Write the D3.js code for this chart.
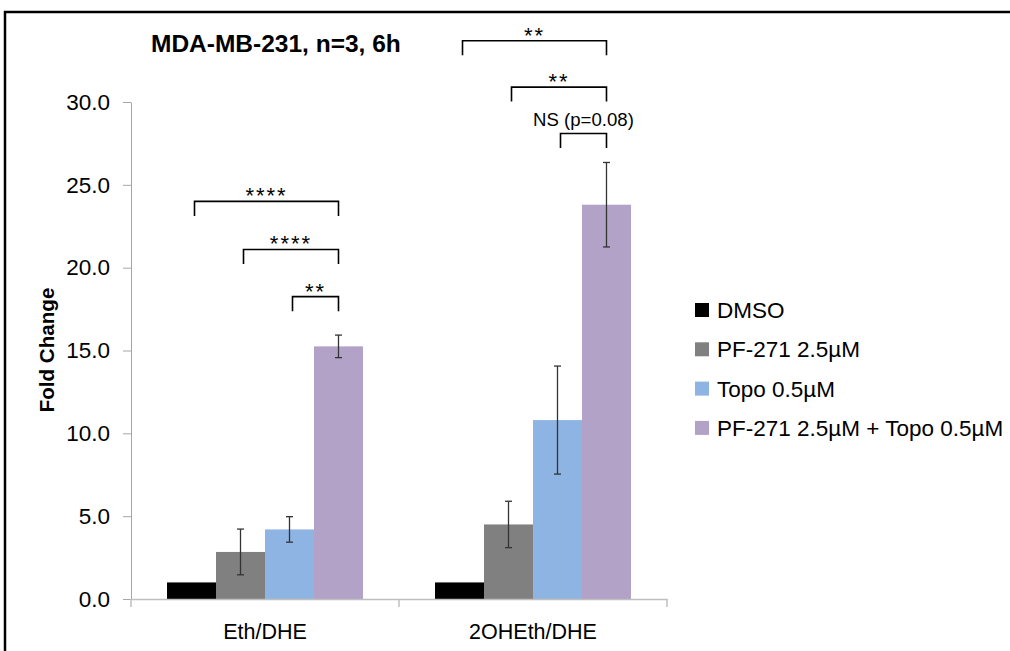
<!DOCTYPE html>
<html>
<head>
<meta charset="utf-8">
<script src="https://cdn.jsdelivr.net/npm/d3@7"></script>
<style>
  body { margin: 0; background: #fff; overflow: hidden; }
  svg { display: block; }
  svg text { font-family: "Liberation Sans", Arial, sans-serif; fill: #000; }
</style>
</head>
<body>
<div id="chart"></div>
<script>
// data
var categories = ["Eth/DHE", "2OHEth/DHE"];
var seriesNames = ["DMSO", "PF-271 2.5\u00b5M", "Topo 0.5\u00b5M", "PF-271 2.5\u00b5M + Topo 0.5\u00b5M"];
var seriesColors = ["#000000", "#808080", "#8eb4e3", "#b3a2c7"];

var dmso = [1.0, 1.0];
var pf271 = [2.84, 4.5];
var topo = [4.2, 10.8];
var combo = [15.25, 23.8];

var dmsoErr = [0, 0];
var pf271Err = [1.38, 1.4];
var topoErr = [0.77, 3.26];
var comboErr = [0.68, 2.55];

var yTicks = [0, 5, 10, 15, 20, 25, 30];

// significance brackets: category, from series, to series, height (fold change), label
var bracketCat = [0, 0, 0, 1, 1, 1];
var bracketFrom = [0, 1, 2, 0, 1, 2];
var bracketTo = [3, 3, 3, 3, 3, 3];
var bracketLevel = [24.0, 21.1, 18.25, 33.7, 30.9, 28.1];
var bracketLabel = ["****", "****", "**", "**", "**", "NS (p=0.08)"];

var W = 1010, H = 651;
var margin = {top: 102, left: 131, right: 343, bottom: 52};

var values = [dmso, pf271, topo, combo];
var errs = [dmsoErr, pf271Err, topoErr, comboErr];
var bars = [];
categories.forEach(function(c, ci) {
  seriesNames.forEach(function(s, si) {
    bars.push({cat: c, ser: s, si: si, v: values[si][ci], e: errs[si][ci]});
  });
});

var svg = d3.select("#chart").append("svg")
    .attr("width", W)
    .attr("height", H);

// outer frame (right and bottom edges fall outside the picture)
svg.append("path")
    .attr("d", "M5," + (H + 5) + "V12H" + (W + 5))
    .attr("fill", "none")
    .attr("stroke", "#000")
    .attr("stroke-width", 2.5);

var x0 = d3.scaleBand()
    .domain(categories)
    .range([margin.left, W - margin.right]);
var x1 = d3.scaleBand()
    .domain(seriesNames)
    .range([0, x0.bandwidth()])
    .paddingOuter(0.735);
var y = d3.scaleLinear()
    .domain([0, 30])
    .range([H - margin.bottom, margin.top]);

// bars
svg.selectAll(".bar")
    .data(bars)
  .enter().append("rect")
    .attr("class", "bar")
    .attr("x", function(d) { return x0(d.cat) + x1(d.ser); })
    .attr("width", x1.bandwidth())
    .attr("y", function(d) { return y(d.v); })
    .attr("height", function(d) { return y(0) - y(d.v); })
    .attr("fill", function(d) { return seriesColors[d.si]; });

// error bars
var eb = svg.selectAll(".err")
    .data(bars.filter(function(d) { return d.e > 0; }))
  .enter().append("g")
    .attr("class", "err")
    .attr("stroke", "#333")
    .attr("stroke-width", 1.3);
function cx(d) { return x0(d.cat) + x1(d.ser) + x1.bandwidth() / 2; }
eb.append("line")
    .attr("x1", cx).attr("x2", cx)
    .attr("y1", function(d) { return y(d.v + d.e); })
    .attr("y2", function(d) { return y(d.v - d.e); });
eb.append("line")
    .attr("x1", function(d) { return cx(d) - 3.5; })
    .attr("x2", function(d) { return cx(d) + 3.5; })
    .attr("y1", function(d) { return y(d.v + d.e); })
    .attr("y2", function(d) { return y(d.v + d.e); });
eb.append("line")
    .attr("x1", function(d) { return cx(d) - 3.5; })
    .attr("x2", function(d) { return cx(d) + 3.5; })
    .attr("y1", function(d) { return y(d.v - d.e); })
    .attr("y2", function(d) { return y(d.v - d.e); });

// y axis
var yAxis = svg.append("g")
    .attr("transform", "translate(" + margin.left + ",0)")
    .call(d3.axisLeft(y).tickValues(yTicks).tickFormat(d3.format(".1f"))
      .tickSize(8).tickSizeOuter(0).tickPadding(13));
yAxis.select(".domain").attr("stroke", "#a6a6a6");
yAxis.selectAll(".tick line").attr("stroke", "#a6a6a6");
yAxis.selectAll(".tick text").style("font-size", "22.5px").attr("fill", "#000");

// x axis
var xAxis = svg.append("g")
    .attr("transform", "translate(0," + y(0) + ")")
    .call(d3.axisBottom(x0).tickSize(0).tickPadding(25).tickSizeOuter(0));
xAxis.select(".domain").attr("stroke", "#bfbfbf").attr("stroke-width", 1.5);
xAxis.selectAll(".tick text").style("font-size", "21.5px").attr("fill", "#000");
var bounds = categories.map(function(c) { return x0(c); }).concat([x0.range()[1]]);
xAxis.selectAll(".bound")
    .data(bounds)
  .enter().append("line")
    .attr("class", "bound")
    .attr("x1", function(d) { return d; }).attr("x2", function(d) { return d; })
    .attr("y1", 0).attr("y2", 8)
    .attr("stroke", "#bfbfbf")
    .attr("stroke-width", 1.5);

// significance brackets
var br = bracketLabel.map(function(lab, i) {
  var c = categories[bracketCat[i]];
  return {
    xa: x0(c) + x1(seriesNames[bracketFrom[i]]) + x1.bandwidth() / 2 + 3,
    xb: x0(c) + x1(seriesNames[bracketTo[i]]) + x1.bandwidth() / 2,
    yy: y(bracketLevel[i]),
    label: lab
  };
});
var bg = svg.selectAll(".bracket")
    .data(br)
  .enter().append("g")
    .attr("class", "bracket");
bg.append("path")
    .attr("d", function(d) {
      return "M" + d.xa + "," + (d.yy + 14.5) + "V" + d.yy + "H" + d.xb + "V" + (d.yy + 14.5);
    })
    .attr("fill", "none")
    .attr("stroke", "#000")
    .attr("stroke-width", 1.6);
bg.append("text")
    .attr("x", function(d) { return (d.xa + d.xb) / 2; })
    .attr("y", function(d) { return d.label.charAt(0) === "*" ? d.yy + 2 : d.yy - 7; })
    .attr("text-anchor", "middle")
    .style("font-size", function(d) { return d.label.charAt(0) === "*" ? "22px" : "18.6px"; })
    .style("letter-spacing", function(d) { return d.label.charAt(0) === "*" ? "2px" : null; })
    .text(function(d) { return d.label; });

// title
svg.append("text")
    .attr("x", 151).attr("y", 52)
    .style("font-size", "24.5px")
    .style("font-weight", "bold")
    .text("MDA-MB-231, n=3, 6h");

// y axis label
svg.append("text")
    .attr("transform", "translate(54," + 350 + ") rotate(-90)")
    .attr("text-anchor", "middle")
    .style("font-size", "20.6px")
    .style("font-weight", "bold")
    .text("Fold Change");

// legend
var lg = svg.selectAll(".leg")
    .data(seriesNames)
  .enter().append("g")
    .attr("class", "leg")
    .attr("transform", function(d, i) { return "translate(695," + (310 + i * 39.3) + ")"; });
lg.append("rect")
    .attr("x", 0).attr("y", -7)
    .attr("width", 14).attr("height", 14)
    .attr("fill", function(d, i) { return seriesColors[i]; });
lg.append("text")
    .attr("x", 22).attr("y", 8)
    .style("font-size", "22.5px")
    .text(function(d) { return d; });
</script>
</body>
</html>
